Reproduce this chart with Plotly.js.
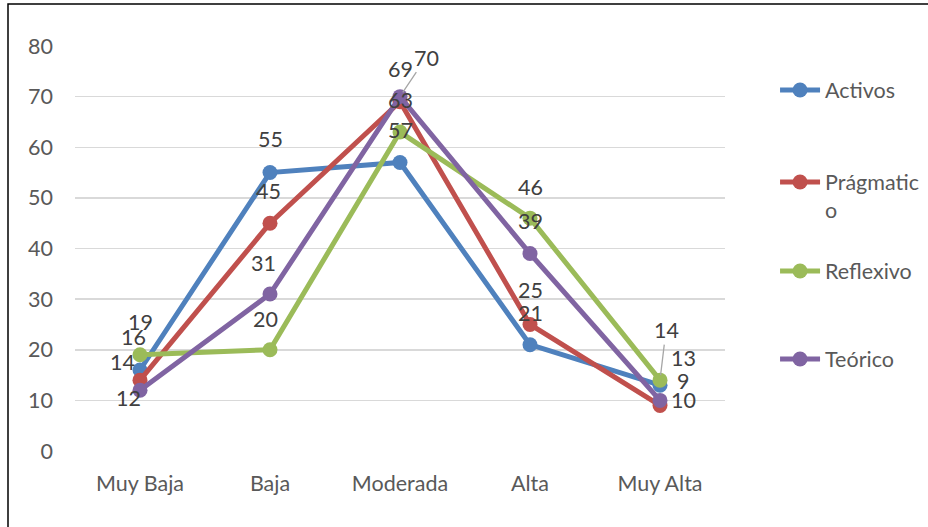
<!DOCTYPE html>
<html>
<head>
<meta charset="utf-8">
<script src="https://cdn.plot.ly/plotly-3.0.1.min.js"></script>
<style>html,body{margin:0;padding:0;background:#fff;}#chart{width:928px;height:527px;}</style>
</head>
<body>
<div id="chart"></div>
<script>
// ---- Data ----
const categories = ['Muy Baja', 'Baja', 'Moderada', 'Alta', 'Muy Alta'];
const seriesNames = ['Activos', 'Prágmatic<br>o', 'Reflexivo', 'Teórico'];
const activos = [16, 55, 57, 21, 13];
const pragmatico = [14, 45, 69, 25, 9];
const reflexivo = [19, 20, 63, 46, 14];
const teorico = [12, 31, 70, 39, 10];
const yTicks = [0, 10, 20, 30, 40, 50, 60, 70, 80];

// ---- Styles ----
const seriesValues = [activos, pragmatico, reflexivo, teorico];
const colors = ['#4f81bd', '#c0504d', '#9bbb59', '#8064a2'];
const legendIds = ['legend', 'legend2', 'legend3', 'legend4'];
// label offsets in px [dx, dy(down)], and whether a leader line is used
const labelOffsets = [
  [[-7, -33], [0, -34], [0, -32], [0, -32], [23, -27]],
  [[-18, -18], [-2, -32], [0, -33], [0, -34], [23, -24]],
  [[0, -33], [-5, -31], [0, -32], [0, -31], [6, -50]],
  [[-12, 8], [-7, -31], [26, -39], [0, -33], [23, 0]]
];
const leaders = [
  [false, false, false, false, false],
  [false, false, false, false, false],
  [false, false, false, false, true],
  [false, false, true, false, false]
];

const FONT = 'Lato, "Open Sans", sans-serif';
const FS = 21.5;

const traces = seriesNames.map((name, i) => ({
  type: 'scatter',
  mode: 'lines+markers',
  name: name,
  x: categories,
  y: seriesValues[i],
  line: {color: colors[i], width: 5},
  marker: {color: colors[i], size: 15},
  legend: legendIds[i],
  hoverinfo: 'skip'
}));

const annotations = [];
seriesValues.forEach((vals, i) => {
  vals.forEach((v, j) => {
    const [dx, dy] = labelOffsets[i][j];
    if (leaders[i][j]) {
      annotations.push({
        x: categories[j], y: v, xref: 'x', yref: 'y',
        text: String(v), showarrow: true, arrowhead: 0,
        arrowcolor: '#a6a6a6', arrowwidth: 1.3, standoff: 5,
        ax: dx, ay: dy,
        font: {family: FONT, size: FS, color: '#404040'}
      });
    } else {
      annotations.push({
        x: categories[j], y: v, xref: 'x', yref: 'y',
        text: String(v), showarrow: false,
        xshift: dx, yshift: -dy,
        font: {family: FONT, size: FS, color: '#404040'}
      });
    }
  });
});

const legendBase = {
  x: 1.077, xanchor: 'left', yanchor: 'middle',
  font: {family: FONT, size: FS, color: '#595959'},
  bgcolor: 'rgba(0,0,0,0)', itemwidth: 40, valign: 'top'
};
// legend item centres (px): 90, 182, 271, 359 ; plot top 46, height 405
const toPaperY = px => (451 - px) / 405;

const layout = {
  width: 928, height: 527,
  margin: {l: 75, r: 203, t: 46, b: 76, autoexpand: false},
  paper_bgcolor: '#ffffff', plot_bgcolor: '#ffffff',
  font: {family: FONT, size: FS, color: '#595959'},
  showlegend: true,
  legend: Object.assign({}, legendBase, {y: toPaperY(90)}),
  legend2: Object.assign({}, legendBase, {y: toPaperY(196)}),
  legend3: Object.assign({}, legendBase, {y: toPaperY(271)}),
  legend4: Object.assign({}, legendBase, {y: toPaperY(359)}),
  xaxis: {
    type: 'category', range: [-0.5, 4.5], automargin: false,
    showgrid: false, zeroline: false, showline: false, ticks: '',
    tickfont: {family: FONT, size: FS, color: '#595959'},
    ticklabelstandoff: 17, fixedrange: true
  },
  yaxis: {
    range: [0, 80], tickvals: yTicks, ticktext: yTicks.map(String), automargin: false,
    showgrid: true, gridcolor: '#d9d9d9', gridwidth: 1.5,
    zeroline: false, showline: false, ticks: '',
    tickfont: {family: FONT, size: FS, color: '#595959'},
    ticklabelstandoff: 21, fixedrange: true
  },
  annotations: annotations,
  shapes: [{
    type: 'rect', xref: 'paper', yref: 'paper',
    x0: (8 - 75) / 650, x1: 2, y0: -1, y1: (451 - 4) / 405,
    line: {color: '#000000', width: 1.5}, fillcolor: 'rgba(0,0,0,0)', layer: 'below'
  }]
};

Plotly.newPlot('chart', traces, layout, {displayModeBar: false, staticPlot: true});
</script>
</body>
</html>
